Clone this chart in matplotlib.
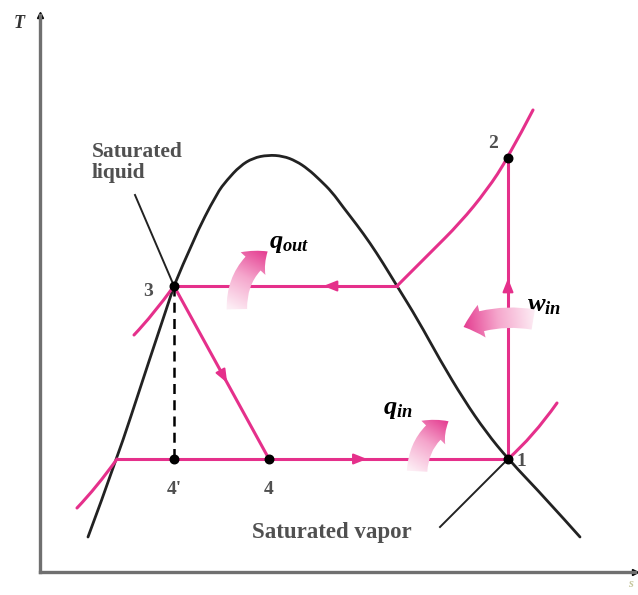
import matplotlib
matplotlib.use("Agg")
import matplotlib.pyplot as plt
import numpy as np
from matplotlib.colors import LinearSegmentedColormap
from matplotlib.patches import FancyArrowPatch, PathPatch
from matplotlib.path import Path

plt.rcParams["mathtext.fontset"] = "custom"
plt.rcParams["mathtext.it"] = "Liberation Serif:italic:bold"
plt.rcParams["mathtext.rm"] = "Liberation Serif:bold"

PINK = "#e5308b"
DARK = "#222222"
GREY = "#505050"

# saturation dome (s, T)
dome_s = [48, 77, 105, 134, 153, 177, 187, 200, 213, 228, 243, 256, 268,
          280, 292, 303, 317, 330, 343, 357, 378, 400, 424, 446, 468, 507, 540]
dome_T = [35, 113, 199, 286, 332, 379, 392, 406, 414, 417, 416, 411, 403,
          392, 380, 365, 347, 329, 309, 286, 252, 212, 172, 140, 113, 72, 35]

# constant pressure lines outside the dome
hp_vap_s = [357, 390, 420, 447, 468, 493]
hp_vap_T = [286, 319, 349, 382, 414, 462]
lp_vap_s = [468, 493, 517]
lp_vap_T = [113, 135, 169]
hp_liq_s = [94, 113, 134]
hp_liq_T = [237, 257, 286]
lp_liq_s = [37, 57, 77]
lp_liq_T = [64, 85, 113]

# cycle states
state_names = ["1", "2", "3", "4", "4'"]
state_s = [468, 468, 134, 229, 134]
state_T = [113, 414, 286, 113, 113]
s_dome_high = 357   # dome crossing at T3
s_dome_low = 77     # dome crossing at T1

fig = plt.figure(figsize=(6.38, 5.95), dpi=100)
ax = fig.add_axes([40 / 638, 23 / 595, 595 / 638, 557 / 595])
ax.set_xlim(0, 595)
ax.set_ylim(0, 557)
for side in ["top", "right"]:
    ax.spines[side].set_visible(False)
for side in ["left", "bottom"]:
    ax.spines[side].set_color("#707070")
    ax.spines[side].set_linewidth(2.4)
ax.set_xticks([])
ax.set_yticks([])
ax.plot(1, 0, ">", color="black", ms=5, transform=ax.transAxes, clip_on=False)
ax.plot(0, 1, "^", color="black", ms=5, transform=ax.transAxes, clip_on=False)
ax.text(-21, 549, "T", family="Liberation Serif", style="italic", weight="bold",
        fontsize=13, color="#333333", ha="center", va="center")
ax.text(591, -12, "s", family="Liberation Serif", style="italic", weight="bold",
        fontsize=9, color="#c8c8a0", ha="center", va="center", clip_on=False)


def smooth_curve(xs, ys, color, lw, zorder):
    # quadratic B-spline path through the midpoints, ends pinned
    pts = np.column_stack([xs, ys]).astype(float)
    verts = [pts[0]]
    codes = [Path.MOVETO]
    for i in range(1, len(pts) - 1):
        end = pts[i + 1] if i == len(pts) - 2 else (pts[i] + pts[i + 1]) / 2
        verts += [pts[i], end]
        codes += [Path.CURVE3, Path.CURVE3]
    if len(pts) == 2:
        verts.append(pts[1])
        codes.append(Path.LINETO)
    ax.add_patch(PathPatch(Path(verts, codes), facecolor="none", edgecolor=color,
                           lw=lw, zorder=zorder, capstyle="round"))


# dome
smooth_curve(dome_s[:4], dome_T[:4], DARK, 2, 2)
smooth_curve(dome_s[3:], dome_T[3:], DARK, 2, 2)

# pink process lines
lw = 2.2
smooth_curve(hp_vap_s, hp_vap_T, PINK, lw, 3)
smooth_curve(lp_vap_s, lp_vap_T, PINK, lw, 3)
smooth_curve(hp_liq_s, hp_liq_T, PINK, lw, 3)
smooth_curve(lp_liq_s, lp_liq_T, PINK, lw, 3)
s1, s2, s3, s4, s4p = state_s
T1, T2, T3, T4, T4p = state_T
ax.plot([s1, s2], [T1, T2], color=PINK, lw=lw, zorder=3)
ax.plot([s3, s_dome_high], [T3, T3], color=PINK, lw=lw, zorder=3)
ax.plot([s3, s4], [T3, T4], color=PINK, lw=lw, zorder=3)
ax.plot([s_dome_low, s1], [T1, T1], color=PINK, lw=lw, zorder=3)
ax.plot([s3, s4p], [T3, T4p], color="black", lw=1.8, ls=(0, (4, 2.5)), zorder=3)


def line_arrow(p_from, p_to, frac):
    tip = np.array(p_from) + frac * (np.array(p_to) - np.array(p_from))
    d = np.array(p_to) - np.array(p_from)
    d = d / np.hypot(*d)
    ax.annotate("", xy=tip, xytext=tip - 8 * d,
                arrowprops=dict(arrowstyle="-|>,head_length=0.8,head_width=0.32",
                                color=PINK, lw=1.5, shrinkA=0, shrinkB=0),
                zorder=4)


line_arrow((s4, T4), (s1, T1), 0.41)
line_arrow((s1, T1), (s2, T2), 0.6)
line_arrow((s_dome_high, T3), (s3, T3), 0.33)
line_arrow((s3, T3), (s4, T4), 0.56)

# state dots and labels
ax.scatter(state_s, state_T, s=38, color="black", zorder=6)
label_offsets = [(13, -2), (-15, 15), (-26, -6), (0, -31), (0, -31)]
for name, s, T, (dx, dy) in zip(state_names, state_s, state_T, label_offsets):
    ax.text(s + dx, T + dy, name, family="Liberation Serif", weight="bold",
            fontsize=14, color=GREY, ha="center", va="center")

# saturation labels with leader lines
ax.text(52, 430, "Saturated\nliquid", family="Liberation Serif", weight="bold",
        fontsize=15.5, color=GREY, ha="left", va="top", linespacing=1.05)
ax.plot([95, s3], [377, T3], color=DARK, lw=1.4, zorder=2)
ax.text(212, 34, "Saturated vapor", family="Liberation Serif", weight="bold",
        fontsize=16.5, color=GREY, ha="left", va="baseline")
ax.plot([400, s1], [45, T1], color=DARK, lw=1.4, zorder=2)

# heat / work arrows with a fading tail
cmap = LinearSegmentedColormap.from_list("fade", ["#fdeef5", "#f5a6cc", "#e3358c"])


def heat_arrow(tail, head, rad):
    arrow = FancyArrowPatch(tail, head, connectionstyle=f"arc3,rad={rad}",
                            arrowstyle="simple,head_width=2.3,head_length=1.3,tail_width=1.4",
                            mutation_scale=10.5, facecolor="none", edgecolor="none",
                            zorder=4)
    ax.add_patch(arrow)
    tail = np.array(tail, float)
    head = np.array(head, float)
    x0, x1 = min(tail[0], head[0]) - 40, max(tail[0], head[0]) + 40
    y0, y1 = min(tail[1], head[1]) - 40, max(tail[1], head[1]) + 40
    gx, gy = np.meshgrid(np.linspace(x0, x1, 140), np.linspace(y0, y1, 140))
    d = head - tail
    t = ((gx - tail[0]) * d[0] + (gy - tail[1]) * d[1]) / (d @ d)
    img = ax.imshow(np.clip(t, 0, 1), cmap=cmap, vmin=0, vmax=1, origin="lower",
                    extent=(x0, x1, y0, y1), interpolation="bilinear", zorder=5,
                    aspect="auto")
    img.set_clip_path(arrow)


heat_arrow((197, 260), (230, 322), -0.3)
heat_arrow((377, 98), (411, 152), -0.3)
heat_arrow((496, 252), (421, 244), 0.15)
ax.set_xlim(0, 595)
ax.set_ylim(0, 557)

ax.text(229, 324, r"$q_{out}$", fontsize=19, color="black", ha="left", va="baseline")
ax.text(343, 158, r"$q_{in}$", fontsize=19, color="black", ha="left", va="baseline")
ax.text(487, 261, r"$w_{in}$", fontsize=19, color="black", ha="left", va="baseline")

fig.savefig("out.png", dpi=100)
